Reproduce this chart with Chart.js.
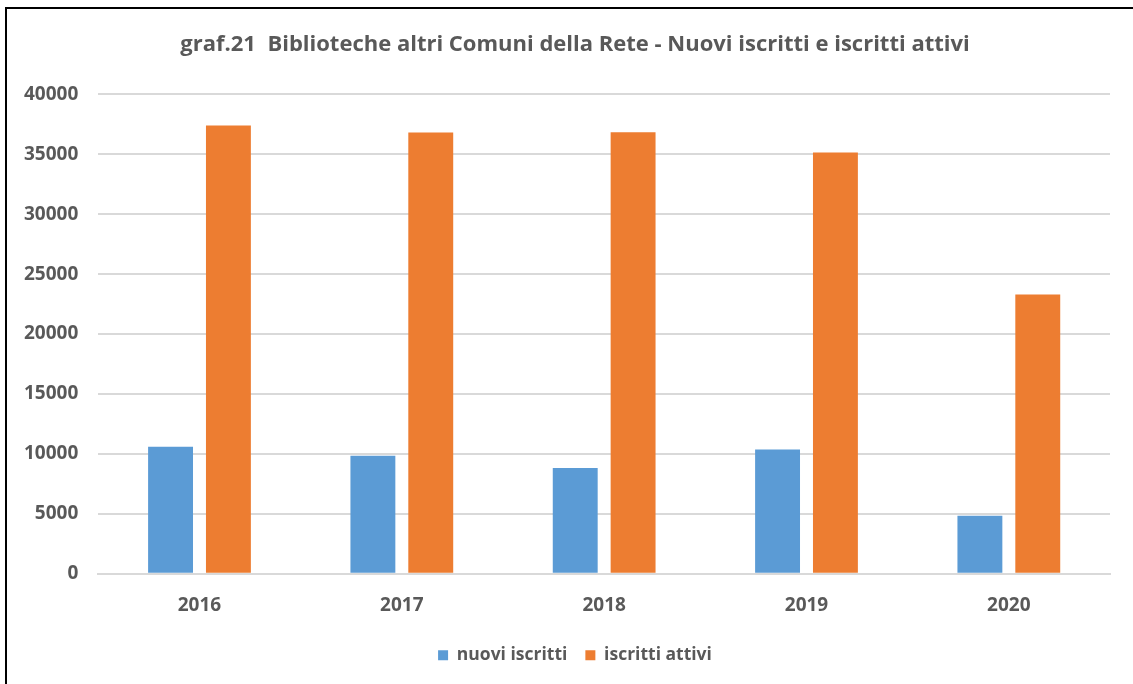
<!DOCTYPE html>
<html>
<head>
<meta charset="utf-8">
<script src="https://cdn.jsdelivr.net/npm/chart.js@4.4.1/dist/chart.umd.min.js"></script>
<style>
  html, body { margin: 0; padding: 0; background: #fff; }
  #wrap { width: 1133px; height: 684px; position: relative; }
</style>
</head>
<body>
<div id="wrap"><canvas id="chart" width="1133" height="684"></canvas></div>
<script>
const years = ['2016', '2017', '2018', '2019', '2020'];
const nuoviIscritti = [10600, 9850, 8830, 10360, 4840];
const iscrittiAttivi = [37400, 36830, 36850, 35160, 23300];
const yTicks = [0, 5000, 10000, 15000, 20000, 25000, 30000, 35000, 40000];

const TEXT = '#595959';
const FONT = '"Open Sans", "Noto Sans", sans-serif';

// black frame, only top and left edges are visible in the picture
const frame = {
  id: 'frame',
  afterDraw(c) {
    const ctx = c.ctx;
    ctx.save();
    ctx.strokeStyle = '#000';
    ctx.lineWidth = 2;
    ctx.strokeRect(6, 8, 1140, 700);
    ctx.restore();
  },
};

// excel centres title and legend on the whole frame, nudge them right a bit
const nudge = {
  id: 'nudge',
  afterLayout(c) {
    for (const box of [c.titleBlock, c.legend]) {
      if (!box) continue;
      box.left += 18;
      box.right += 18;
    }
  },
};

const canvas = document.getElementById('chart');
new Chart(canvas, {
  type: 'bar',
  data: {
    labels: years,
    datasets: [
      {
        label: 'nuovi iscritti',
        data: nuoviIscritti,
        backgroundColor: '#5B9BD5',
        barPercentage: 0.776,
        categoryPercentage: 0.572,
      },
      {
        label: 'iscritti attivi',
        data: iscrittiAttivi,
        backgroundColor: '#ED7D31',
        barPercentage: 0.776,
        categoryPercentage: 0.572,
      },
    ],
  },
  options: {
    responsive: false,
    animation: false,
    layout: { padding: { left: 4, right: 23, top: 22, bottom: 10 } },
    scales: {
      x: {
        grid: { display: false },
        border: { color: '#D9D9D9', width: 2 },
        ticks: { color: TEXT, font: { family: FONT, size: 19, weight: 'bold' }, padding: 12 },
      },
      y: {
        min: 0,
        max: 40000,
        afterBuildTicks(axis) { axis.ticks = yTicks.map(v => ({ value: v })); },
        border: { display: false },
        grid: { color: '#D9D9D9', lineWidth: 2, drawTicks: false },
        ticks: {
          color: TEXT,
          font: { family: FONT, size: 19, weight: 'bold' },
          padding: 20,
          callback: v => String(v),
        },
      },
    },
    plugins: {
      title: {
        display: true,
        text: 'graf.21  Biblioteche altri Comuni della Rete - Nuovi iscritti e iscritti attivi',
        color: TEXT,
        font: { family: FONT, size: 22, weight: 'bold' },
        padding: { top: 10, bottom: 36 },
      },
      legend: {
        position: 'bottom',
        labels: {
          color: TEXT,
          font: { family: FONT, size: 17.5, weight: 'bold' },
          boxWidth: 10,
          boxHeight: 10,
          padding: 18,
        },
      },
      tooltip: { enabled: false },
    },
  },
  plugins: [frame, nudge],
});
</script>
</body>
</html>
